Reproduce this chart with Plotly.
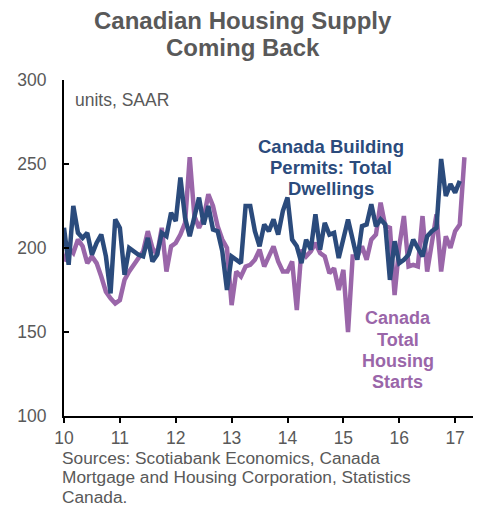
import plotly.graph_objects as go

# Monthly data, Jan 2010 onward (thousands of units, SAAR)
permits = [212, 190, 225, 209, 206, 209, 196, 203, 208, 195, 173, 217,
           212, 184, 200, 198, 196, 195, 206, 192, 196, 209, 207, 221,
           216, 242, 218, 207, 218, 230, 214, 225, 211, 210, 198, 175,
           195, 193, 191, 225, 225, 210, 201, 214, 210, 217, 208, 222,
           230, 205, 201, 191, 205, 199, 220, 199, 215, 208, 209, 194,
           207, 217, 205, 193, 213, 214, 226, 213, 217, 214, 181, 204,
           191, 193, 196, 205, 200, 195, 207, 210, 212, 253, 231, 238,
           233, 240]
starts = [192, 200, 197, 205, 201, 191, 195, 191, 183, 174, 170, 167,
          169, 181, 186, 190, 195, 198, 210, 200, 196, 212, 186, 201,
          203, 208, 215, 254, 219, 212, 218, 232, 225, 213, 205, 200,
          166, 186, 183, 189, 190, 193, 199, 189, 195, 201, 192, 186,
          186, 192, 163, 199, 195, 198, 203, 197, 195, 185, 188, 175,
          187, 150, 195, 195, 201, 193, 205, 208, 227, 213, 212, 172,
          201, 219, 189, 190, 189, 219, 186, 205, 220, 186, 207, 200,
          210, 214, 254]
start_year = 10
x_ticks = [10, 11, 12, 13, 14, 15, 16, 17]
y_ticks = [100, 150, 200, 250, 300]

title_lines = ["Canadian Housing Supply", "Coming Back"]
permits_label = ["Canada Building", "Permits: Total", "Dwellings"]
starts_label = ["Canada", "Total", "Housing", "Starts"]
source_lines = ["Sources: Scotiabank Economics, Canada",
                "Mortgage and Housing Corporation, Statistics",
                "Canada."]

x_permits = [start_year + i / 12 for i in range(len(permits))]
x_starts = [start_year + i / 12 for i in range(len(starts))]

BLUE = "#2b4b7c"
PURPLE = "#9a66a9"
GRAY = "#595959"
FONT = "Arial, Liberation Sans, sans-serif"

# plot area spans x 64..473, y 80..416 on screen (body margin removed below)
W, H = 477, 508
L, R, T, B = 64, 4, 80, 92
PX0, PY1 = L, H - B
PW, PH = W - L - R, H - T - B


def px(xabs):
    return (xabs - PX0) / PW


def py(yabs):
    return (PY1 - yabs) / PH


fig = go.Figure()
fig.add_trace(go.Scatter(x=x_starts, y=starts, mode="lines",
                         line=dict(color=PURPLE, width=4.5), showlegend=False))
fig.add_trace(go.Scatter(x=x_permits, y=permits, mode="lines",
                         line=dict(color=BLUE, width=4.5), showlegend=False))

fig.update_layout(
    width=W, height=H,
    margin=dict(l=L, r=R, t=T, b=B),
    plot_bgcolor="white", paper_bgcolor="white",
    font=dict(family=FONT, color=GRAY, size=18),
    xaxis=dict(range=[10, 17.32], tickvals=x_ticks, ticktext=[str(t) for t in x_ticks],
               showgrid=False, zeroline=False, showline=True, linecolor="black",
               linewidth=2, ticks="outside", ticklen=5, tickwidth=1.5, tickcolor="black",
               ticklabelstandoff=0, tickfont=dict(size=17.5, color=GRAY)),
    yaxis=dict(range=[100, 300], tickvals=y_ticks, showgrid=False, zeroline=False,
               showline=True, linecolor="black", linewidth=2, ticks="inside",
               ticklen=5, tickwidth=1.5, tickcolor="black", ticklabelstandoff=12,
               tickfont=dict(size=17.5, color=GRAY)),
)


def add_line(text, xabs, yabs, size, color, bold=False, xanchor="center"):
    t = f"<b>{text}</b>" if bold else text
    fig.add_annotation(text=t, xref="paper", yref="paper", x=px(xabs), y=py(yabs),
                       xanchor=xanchor, yanchor="middle", showarrow=False,
                       font=dict(size=size, color=color, family=FONT))


for line, yabs in zip(title_lines, [21, 48]):
    add_line(line, 242.5, yabs, 24, GRAY, bold=True)
for line, yabs in zip(permits_label, [146, 167, 188]):
    add_line(line, 331, yabs, 18.5, BLUE, bold=True)
for line, yabs in zip(starts_label, [318, 340, 361, 382]):
    add_line(line, 397.5, yabs, 18, PURPLE, bold=True)
for line, yabs in zip(source_lines, [458, 477.5, 497]):
    add_line(line, 60, yabs, 17.3, GRAY, xanchor="left")
add_line("units, SAAR", 73, 100, 17.5, GRAY, xanchor="left")

fig.write_html("out.html", config={"displayModeBar": False},
               post_script="document.body.style.margin='0';document.body.style.overflow='hidden';")
